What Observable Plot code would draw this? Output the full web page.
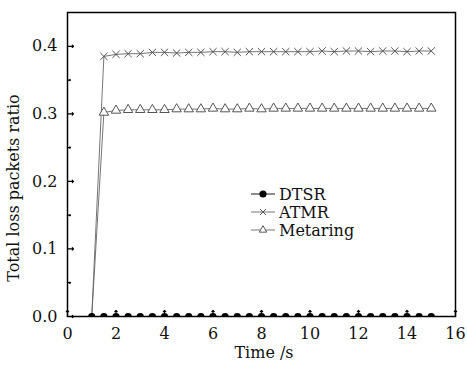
<!DOCTYPE html>
<html><head><meta charset="utf-8">
<script src="https://cdn.jsdelivr.net/npm/d3@7"></script>
<script src="https://cdn.jsdelivr.net/npm/@observablehq/plot@0.6"></script>
<style>body{margin:0;background:#fff}svg{font-family:"DejaVu Serif",serif}</style>
</head><body><div id="chart"></div>
<script>
const time = [1,1.5,2,2.5,3,3.5,4,4.5,5,5.5,6,6.5,7,7.5,8,8.5,9,9.5,10,10.5,11,11.5,12,12.5,13,13.5,14,14.5,15];
const dtsr = [0,0,0,0,0,0,0,0,0,0,0,0,0,0,0,0,0,0,0,0,0,0,0,0,0,0,0,0,0];
const atmr = [0,0.385,0.388,0.389,0.389,0.391,0.391,0.390,0.391,0.391,0.392,0.392,0.391,0.392,0.392,0.392,0.392,0.392,0.392,0.393,0.392,0.393,0.393,0.392,0.393,0.393,0.392,0.393,0.393];
const metaring = [0,0.302,0.305,0.306,0.306,0.306,0.306,0.307,0.307,0.307,0.308,0.307,0.307,0.308,0.307,0.308,0.308,0.308,0.308,0.308,0.308,0.308,0.308,0.308,0.308,0.308,0.308,0.308,0.308];
const seriesNames = ["DTSR","ATMR","Metaring"];
const xTicks = [0,2,4,6,8,10,12,14,16];
const yTicks = [0.0,0.1,0.2,0.3,0.4];
const yMinor = [0.05,0.15,0.25,0.35];
const xLabel = "Time /s";
const yLabel = "Total loss packets ratio";

const rows = (vals) => time.map((t,i)=>({t, v: vals[i]}));
const D = rows(dtsr), A = rows(atmr), M = rows(metaring);
const gray = "#666";

const plot = Plot.plot({
  width: 467, height: 366,
  marginLeft: 67, marginRight: 12, marginTop: 12, marginBottom: 50,
  style: {fontFamily: "DejaVu Serif", fontSize: "16px", color: "#111", background: "#fff"},
  x: {domain: [0,16]},
  y: {domain: [0,0.45]},
  marks: [
    Plot.line(A, {x:"t", y:"v", stroke: gray, strokeWidth: 0.9}),
    Plot.line(M, {x:"t", y:"v", stroke: gray, strokeWidth: 0.9}),
    Plot.dot(A.filter(d=>d.v>0), {x:"t", y:"v", symbol:"times", r:3.4, stroke: "#555", strokeWidth: 1}),
    Plot.dot(M.filter(d=>d.v>0), {x:"t", y:"v", symbol:"triangle", r:3.5, stroke: "#555", fill:"#fff", strokeWidth: 1}),
    Plot.line(D, {x:"t", y:"v", stroke: "#000", strokeWidth: 1}),
    Plot.dot(D, {x:"t", y:"v", r:3.6, fill:"#000", clip: true}),
    Plot.vector(yTicks, {x: 0, y: d=>d, length: 6, rotate: 90, anchor: "start", stroke: "#000", strokeWidth: 1.2}),
    Plot.vector(yMinor, {x: 0, y: d=>d, length: 3, rotate: 90, anchor: "start", stroke: "#000", strokeWidth: 1.2}),
    Plot.vector(xTicks, {x: d=>d, y: 0, length: 6, rotate: 0, anchor: "start", stroke: "#000", strokeWidth: 1.2}),
    Plot.axisY(yTicks, {tickSize: 0, tickPadding: 10, tickFormat: d3.format(".1f"), label: null, fontSize: 16}),
    Plot.axisX(xTicks, {tickSize: 0, tickPadding: 11, tickFormat: d=>String(d), label: null, fontSize: 16}),
    Plot.frame({stroke: "#000", strokeWidth: 1.5})
  ]
});
document.getElementById("chart").appendChild(plot);

const svg = d3.select(plot);
svg.append("text").attr("x", 264).attr("y", 358).attr("text-anchor","middle")
  .attr("font-size", 16).attr("fill","#111").text(xLabel);
svg.append("text").attr("transform","translate(19,188) rotate(-90)").attr("text-anchor","middle")
  .attr("font-size", 16).attr("fill","#111").text(yLabel);

const lg = svg.append("g");
const ys = [194, 212, 230];
const x0 = 251, x1 = 275, xc = 263;
seriesNames.forEach((name, i) => {
  const y = ys[i];
  const col = i === 0 ? "#000" : gray;
  lg.append("line").attr("x1", x0).attr("x2", x1).attr("y1", y).attr("y2", y).attr("stroke", col).attr("stroke-width", 0.9);
  const sym = [d3.symbolCircle, d3.symbolTimes, d3.symbolTriangle][i];
  const size = [40, 24, 24][i];
  lg.append("path").attr("transform", `translate(${xc},${y})`).attr("d", d3.symbol(sym, size)())
    .attr("fill", i === 0 ? "#000" : (i === 2 ? "#fff" : "none")).attr("stroke", i === 0 ? "none" : "#555");
  lg.append("text").attr("x", 279).attr("y", y + 6).attr("text-anchor","start")
    .attr("font-size", 16).attr("fill","#111").text(name);
});
</script></body></html>
